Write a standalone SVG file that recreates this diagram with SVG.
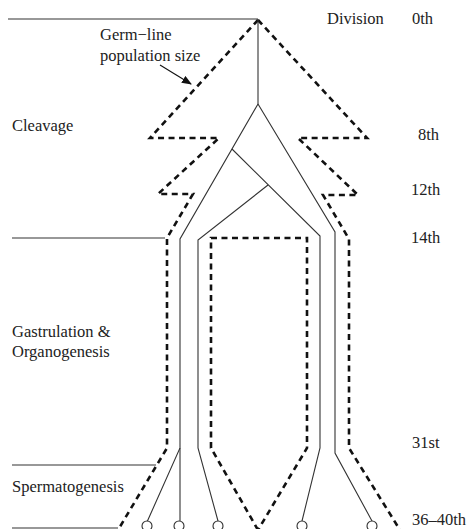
<svg xmlns="http://www.w3.org/2000/svg" width="470" height="529" viewBox="0 0 470 529">
<style>
text{font-family:'Liberation Serif','DejaVu Serif',serif;font-size:16.5px;fill:#222}
.s{fill:none;stroke:#333;stroke-width:1.1}
.d{fill:none;stroke:#111;stroke-width:2.6;stroke-dasharray:6,4.5}
.c{fill:#fff;stroke:#333;stroke-width:1.1}
</style>
<defs>
<marker id="ah" markerWidth="10" markerHeight="8" refX="9" refY="4" orient="auto" markerUnits="userSpaceOnUse">
<path d="M0,0 L10,4 L0,8 Z" fill="#111"/>
</marker>
</defs>
<g id="labels" font-family="Liberation Serif, serif">
<text x="100" y="40">Germ−line</text>
<text x="100" y="61">population size</text>
<text x="327" y="24">Division</text>
<text x="412" y="24">0th</text>
<text x="12" y="131">Cleavage</text>
<text x="418" y="140">8th</text>
<text x="411" y="195">12th</text>
<text x="411" y="243">14th</text>
<text x="12" y="337">Gastrulation &amp;</text>
<text x="12" y="357">Organogenesis</text>
<text x="412" y="448">31st</text>
<text x="12" y="492">Spermatogenesis</text>
<text x="412" y="525">36–40th</text>
</g>
<g id="stage-lines">
<line class="s" x1="8" y1="19" x2="258" y2="19"/>
<line class="s" x1="12" y1="238" x2="165" y2="238"/>
<line class="s" x1="12" y1="465" x2="156" y2="465"/>
<line class="s" x1="12" y1="528" x2="118" y2="528"/>
</g>
<g id="germline-size">
<polyline class="d" points="258,20 150,138 219,138 158,194 193,194 167,238 167,448 118,530"/>
<polyline class="d" points="258,20 367,138 298,138 358,195 323,195 349,239 349,448 400,530"/>
<polyline class="d" points="258,530 211,448 211,238 307,238 307,448 258,530"/>
</g>
<g id="connectors">
<line x1="160" y1="65" x2="191" y2="84" stroke="#111" stroke-width="1.1" marker-end="url(#ah)"/>
<polyline class="s" points="258,19 258,104"/>
<polyline class="s" points="258,104 180,239 180,448 147,522"/>
<polyline class="s" points="180,448 180,521"/>
<polyline class="s" points="232,149 320,236 320,448 302,521"/>
<polyline class="s" points="268,185 198,240 198,448 218,521"/>
<polyline class="s" points="258,104 335,232 335,453 372,521"/>
</g>
<g id="cells">
<circle class="c" cx="147" cy="526" r="5"/>
<circle class="c" cx="179" cy="526" r="5"/>
<circle class="c" cx="218" cy="526" r="5"/>
<circle class="c" cx="302" cy="526" r="5"/>
<circle class="c" cx="372" cy="526" r="5"/>
</g>
</svg>
